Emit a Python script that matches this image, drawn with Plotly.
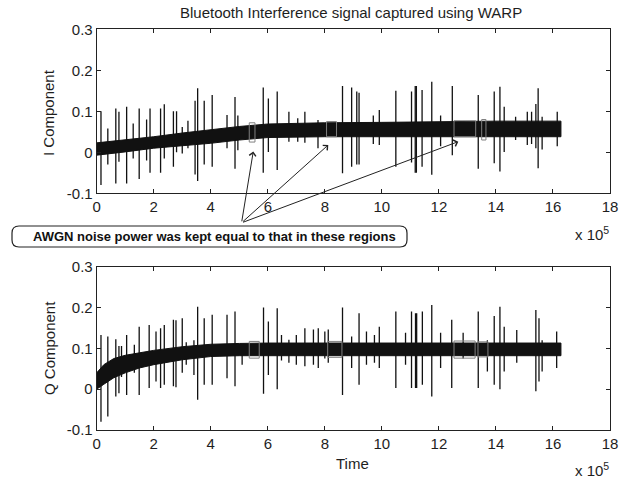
import plotly.graph_objects as go

# ---------------- data (x in units of 1e5 samples) ----------------
# dense core of the I signal: envelope
i_band_x = [0, 1, 2, 3, 4, 5, 6, 8, 10, 12, 14, 16.28]
i_band_hi = [0.023, 0.030, 0.038, 0.047, 0.055, 0.063, 0.069, 0.072, 0.073, 0.075, 0.076, 0.076]
i_band_lo = [-0.007, 0.001, 0.010, 0.016, 0.022, 0.030, 0.036, 0.038, 0.038, 0.038, 0.038, 0.038]

# I spikes: position, top, bottom
i_spike_x = [0.15, 0.39, 0.67, 0.78, 1.05, 1.28, 1.49, 1.75, 1.87, 2.24, 2.37, 2.69, 2.80, 3.00, 3.20,
             3.45, 3.54, 3.77, 4.05, 4.57, 4.85, 4.95, 5.84, 6.02, 6.33, 6.74, 7.05, 7.30, 7.76,
             8.62, 8.94, 9.12, 9.20, 9.70, 9.91, 10.49, 11.04, 11.17, 11.21, 11.41, 11.75, 12.06,
             12.47, 13.38, 13.94, 14.14, 14.29, 14.69, 15.10, 15.25, 15.40, 15.48, 15.62, 16.15]
i_spike_top = [0.100, 0.058, 0.107, 0.099, 0.111, 0.070, 0.107, 0.080, 0.107, 0.107, 0.117, 0.100, 0.100, 0.062, 0.077,
               0.126, 0.156, 0.126, 0.140, 0.091, 0.135, 0.090, 0.158, 0.131, 0.148, 0.099, 0.083, 0.099, 0.079,
               0.162, 0.158, 0.148, 0.145, 0.090, 0.103, 0.150, 0.148, 0.162, 0.162, 0.152, 0.172, 0.090,
               0.162, 0.140, 0.148, 0.160, 0.111, 0.087, 0.099, 0.099, 0.118, 0.156, 0.087, 0.099]
i_spike_bot = [-0.080, -0.030, -0.076, -0.023, -0.076, -0.015, -0.065, -0.020, -0.050, -0.050, -0.015, -0.035, 0.000, -0.003, 0.010,
               -0.054, -0.070, -0.030, -0.035, 0.010, -0.040, 0.005, -0.050, 0.001, -0.043, 0.026, 0.026, 0.023, 0.010,
               -0.051, -0.035, -0.030, -0.030, 0.020, 0.018, -0.035, -0.025, -0.050, -0.050, -0.035, -0.055, 0.015,
               -0.007, -0.040, -0.027, -0.047, 0.001, 0.030, 0.018, 0.020, 0.010, -0.039, 0.007, 0.015]

# dense core of the Q signal
q_band_x = [0, 0.25, 0.6, 1.0, 1.5, 2.0, 3.0, 4.0, 5.0, 6.0, 16.28]
q_band_hi = [0.040, 0.060, 0.075, 0.083, 0.089, 0.095, 0.104, 0.110, 0.112, 0.113, 0.113]
q_band_lo = [0.000, 0.012, 0.028, 0.040, 0.052, 0.060, 0.072, 0.080, 0.082, 0.082, 0.082]

# Q spikes
q_spike_x = [0.15, 0.39, 0.67, 0.78, 0.87, 1.05, 1.32, 1.49, 1.84, 2.08, 2.24, 2.37, 2.69, 2.78, 3.00, 3.14,
             3.41, 3.54, 3.77, 4.05, 4.57, 4.85, 5.10, 5.85, 6.02, 6.33, 6.48, 6.74, 7.00, 7.30, 7.60,
             7.77, 8.00, 8.12, 8.62, 8.94, 9.20, 9.46, 9.74, 9.91, 10.49, 10.83, 11.04, 11.18, 11.22,
             11.42, 11.75, 12.06, 12.45, 12.85, 13.38, 13.70, 13.94, 14.14, 14.29, 14.73, 15.40, 15.51,
             15.62, 16.13]
q_spike_top = [0.133, 0.129, 0.122, 0.106, 0.106, 0.133, 0.109, 0.153, 0.157, 0.141, 0.149, 0.157, 0.170, 0.169, 0.174, 0.115,
               0.120, 0.202, 0.174, 0.182, 0.182, 0.190, 0.100, 0.200, 0.166, 0.198, 0.133, 0.121, 0.133, 0.149, 0.146,
               0.149, 0.141, 0.146, 0.200, 0.129, 0.186, 0.141, 0.133, 0.153, 0.190, 0.138, 0.190, 0.186, 0.186,
               0.190, 0.206, 0.138, 0.170, 0.138, 0.190, 0.120, 0.179, 0.202, 0.153, 0.145, 0.194, 0.174,
               0.120, 0.141]
q_spike_bot = [-0.080, -0.067, -0.018, -0.010, 0.030, -0.014, 0.040, -0.014, 0.003, 0.019, 0.003, 0.011, 0.007, 0.005, 0.040, 0.060,
               0.035, -0.026, 0.011, 0.011, 0.027, 0.007, 0.060, -0.011, 0.035, 0.000, 0.070, 0.065, 0.060, 0.056, 0.060,
               0.052, 0.075, 0.065, -0.014, 0.052, 0.011, 0.060, 0.065, 0.052, 0.003, 0.060, 0.003, 0.003, 0.003,
               0.011, -0.018, 0.052, 0.003, 0.075, 0.003, 0.043, 0.011, 0.000, 0.043, 0.065, -0.005, 0.019,
               0.043, 0.052]

# highlighted regions (x0, x1, y0, y1)
i_regions = [(5.35, 5.55, 0.025, 0.072), (8.06, 8.41, 0.038, 0.075), (12.53, 13.29, 0.038, 0.077), (13.50, 13.65, 0.030, 0.080)]
q_regions = [(5.35, 5.70, 0.076, 0.117), (8.10, 8.60, 0.078, 0.117), (12.53, 13.27, 0.076, 0.118), (13.37, 13.72, 0.079, 0.116)]

# arrow tips (in I-axis data units) and common tail
arrow_tips = [(5.49, 0.002), (8.12, 0.018), (12.68, 0.026)]
arrow_tail = (5.08, -0.172)

x_ticks = [0, 2, 4, 6, 8, 10, 12, 14, 16, 18]
y_ticks = [-0.1, 0, 0.1, 0.2, 0.3]
y_tick_text = ["-0.1", "0", "0.1", "0.2", "0.3"]

title_text = "Bluetooth Interference signal captured using WARP"
note_text = "AWGN noise power was kept equal to that in these regions"

# ---------------- layout helpers ----------------
W, H = 619, 481
def px(x):
    return x / W
def py(y):
    return 1 - y / H

FONT = "Liberation Sans, Arial, sans-serif"
TXT = "#1e1e1e"

def band_trace(bx, hi, lo, xa, ya):
    return go.Scatter(x=list(bx) + list(bx)[::-1], y=list(hi) + list(lo)[::-1],
                      fill="toself", fillcolor="#111111", mode="lines",
                      line=dict(color="#111111", width=1), xaxis=xa, yaxis=ya,
                      hoverinfo="skip", showlegend=False)

def spike_trace(sx, top, bot, xa, ya):
    xs, ys = [], []
    for x, t, b in zip(sx, top, bot):
        xs += [x, x, None]
        ys += [b, t, None]
    return go.Scatter(x=xs, y=ys, mode="lines", line=dict(color="#111111", width=1.3),
                      xaxis=xa, yaxis=ya, hoverinfo="skip", showlegend=False)

fig = go.Figure()
fig.add_trace(spike_trace(i_spike_x, i_spike_top, i_spike_bot, "x", "y"))
fig.add_trace(band_trace(i_band_x, i_band_hi, i_band_lo, "x", "y"))
fig.add_trace(spike_trace(q_spike_x, q_spike_top, q_spike_bot, "x2", "y2"))
fig.add_trace(band_trace(q_band_x, q_band_hi, q_band_lo, "x2", "y2"))

shapes = []
for (x0, x1, y0, y1) in i_regions:
    shapes.append(dict(type="rect", xref="x", yref="y", x0=x0, x1=x1, y0=y0, y1=y1,
                       line=dict(color="#808080", width=1)))
for (x0, x1, y0, y1) in q_regions:
    shapes.append(dict(type="rect", xref="x2", yref="y2", x0=x0, x1=x1, y0=y0, y1=y1,
                       line=dict(color="#808080", width=1)))

# rounded box around the note
bx0, bx1, by0, by1, r = 12, 407, 226, 247, 7
rx, ry = r / W, r / H
X0, X1, Yt, Yb = px(bx0), px(bx1), py(by0), py(by1)
path = (f"M {X0+rx},{Yt} L {X1-rx},{Yt} Q {X1},{Yt} {X1},{Yt-ry} "
        f"L {X1},{Yb+ry} Q {X1},{Yb} {X1-rx},{Yb} L {X0+rx},{Yb} "
        f"Q {X0},{Yb} {X0},{Yb+ry} L {X0},{Yt-ry} Q {X0},{Yt} {X0+rx},{Yt} Z")
shapes.append(dict(type="path", xref="paper", yref="paper", path=path,
                   line=dict(color="#222222", width=1.2), fillcolor="white"))

annotations = []
for (tx, ty) in arrow_tips:
    annotations.append(dict(x=tx, y=ty, xref="x", yref="y", ax=arrow_tail[0], ay=arrow_tail[1],
                            axref="x", ayref="y", showarrow=True, arrowhead=4, arrowsize=1.3,
                            arrowwidth=1, arrowcolor="#222222", text=""))

annotations += [
    dict(text=title_text, x=px(351), y=py(13), xref="paper", yref="paper", showarrow=False,
         font=dict(family=FONT, size=15, color=TXT), xanchor="center", yanchor="middle"),
    dict(text="<b>" + note_text + "</b>", x=px(214), y=py(236.5), xref="paper", yref="paper", showarrow=False,
         font=dict(family=FONT, size=13, color="#111111"), xanchor="center", yanchor="middle"),
    dict(text="I Component", x=px(49), y=py(113), xref="paper", yref="paper", showarrow=False,
         textangle=-90, font=dict(family=FONT, size=15, color=TXT), xanchor="center", yanchor="middle"),
    dict(text="Q Component", x=px(49), y=py(348), xref="paper", yref="paper", showarrow=False,
         textangle=-90, font=dict(family=FONT, size=15, color=TXT), xanchor="center", yanchor="middle"),
    dict(text="Time", x=px(352), y=py(463), xref="paper", yref="paper", showarrow=False,
         font=dict(family=FONT, size=15, color=TXT), xanchor="center", yanchor="middle"),
    dict(text="x 10<sup>5</sup>", x=px(573), y=py(233), xref="paper", yref="paper", showarrow=False,
         font=dict(family=FONT, size=15, color=TXT), xanchor="left", yanchor="middle"),
    dict(text="x 10<sup>5</sup>", x=px(573), y=py(469), xref="paper", yref="paper", showarrow=False,
         font=dict(family=FONT, size=15, color=TXT), xanchor="left", yanchor="middle"),
]

xdom = [px(96.7), px(610)]
axis_common = dict(showline=True, linecolor="#222222", linewidth=1, mirror="ticks", ticks="inside",
                   ticklen=4, tickcolor="#222222", showgrid=False, zeroline=False,
                   tickfont=dict(family=FONT, size=15, color=TXT))

fig.update_layout(
    width=W, height=H, margin=dict(l=0, r=0, t=0, b=0, autoexpand=False),
    paper_bgcolor="white", plot_bgcolor="white", showlegend=False,
    xaxis=dict(domain=xdom, range=[0, 18], tickvals=x_ticks, anchor="y", **axis_common),
    yaxis=dict(domain=[py(193.3), py(29.3)], range=[-0.1, 0.3], tickvals=y_ticks, ticktext=y_tick_text,
               anchor="x", **axis_common),
    xaxis2=dict(domain=xdom, range=[0, 18], tickvals=x_ticks, anchor="y2", **axis_common),
    yaxis2=dict(domain=[py(430), py(266.7)], range=[-0.1, 0.3], tickvals=y_ticks, ticktext=y_tick_text,
                anchor="x2", **axis_common),
    shapes=shapes, annotations=annotations,
)

fig.write_html("out.html")
